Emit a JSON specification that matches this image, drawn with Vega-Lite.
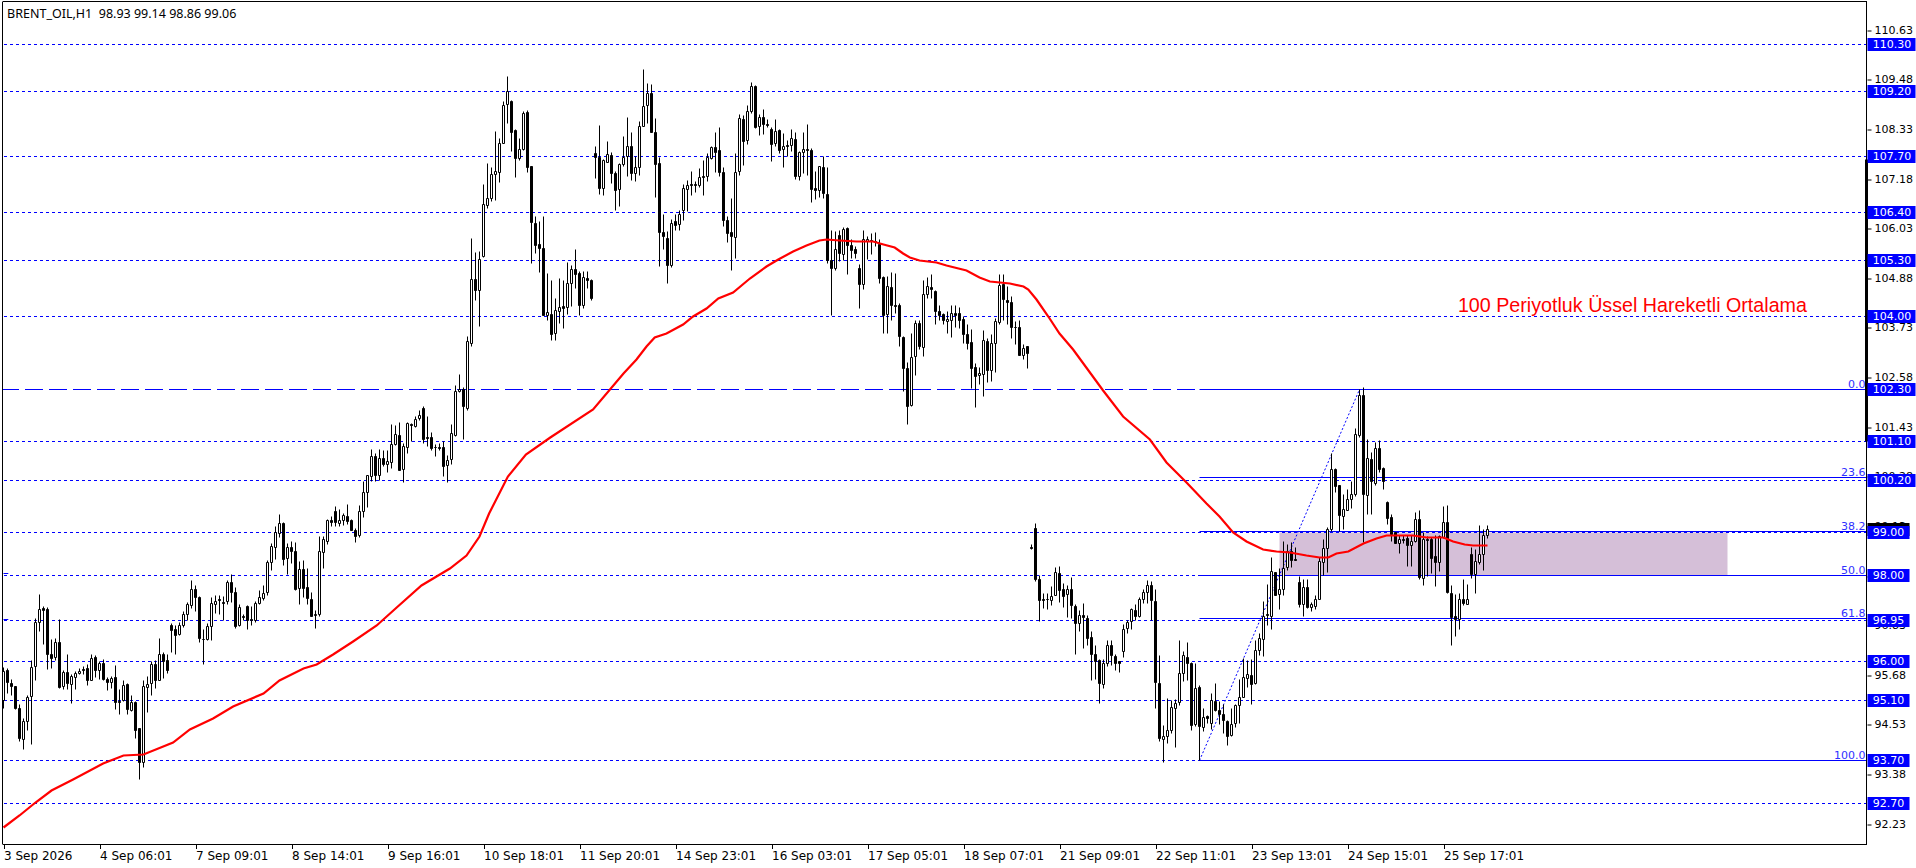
{"$schema":"https://vega.github.io/schema/vega-lite/v6.json","width":1864,"height":843,"autosize":{"type":"none"},"padding":{"left":3,"top":1.5,"right":49,"bottom":23.5},"background":"#ffffff","config":{"view":{"stroke":null},"axis":{"grid":false,"domain":false}},
"datasets":{
"candles":[
{"i":0,"o":95.09,"h":95.86,"l":94.91,"c":95.76},{"i":1,"o":95.80,"h":95.84,"l":95.26,"c":95.51},{"i":2,"o":95.49,"h":95.59,"l":95.22,"c":95.42},{"i":3,"o":95.42,"h":95.43,"l":94.89,"c":94.91},{"i":4,"o":94.91,"h":95.01,"l":94.14,"c":94.22},{"i":5,"o":94.20,"h":94.68,"l":93.95,"c":94.62},{"i":6,"o":94.61,"h":95.22,"l":94.40,"c":95.17},{"i":7,"o":95.18,"h":96.03,"l":94.07,"c":95.86},{"i":8,"o":95.88,"h":97.00,"l":95.57,"c":96.90},{"i":9,"o":96.90,"h":97.56,"l":96.69,"c":97.21},
{"i":10,"o":97.22,"h":97.27,"l":96.40,"c":97.18},{"i":11,"o":97.21,"h":97.24,"l":95.82,"c":96.16},{"i":12,"o":96.16,"h":96.52,"l":95.84,"c":96.07},{"i":13,"o":96.09,"h":96.53,"l":96.03,"c":96.44},{"i":14,"o":96.44,"h":96.97,"l":95.38,"c":95.40},{"i":15,"o":95.42,"h":95.80,"l":95.34,"c":95.75},{"i":16,"o":95.75,"h":96.15,"l":95.34,"c":95.48},{"i":17,"o":95.47,"h":95.69,"l":95.03,"c":95.65},{"i":18,"o":95.63,"h":95.76,"l":95.34,"c":95.72},{"i":19,"o":95.72,"h":95.84,"l":95.69,"c":95.76},
{"i":20,"o":95.82,"h":95.88,"l":95.69,"c":95.79},{"i":21,"o":95.84,"h":95.92,"l":95.45,"c":95.55},{"i":22,"o":95.57,"h":96.17,"l":95.55,"c":96.07},{"i":23,"o":96.09,"h":96.13,"l":95.63,"c":95.79},{"i":24,"o":95.79,"h":95.99,"l":95.59,"c":95.96},{"i":25,"o":95.96,"h":96.05,"l":95.55,"c":95.59},{"i":26,"o":95.59,"h":95.63,"l":95.32,"c":95.52},{"i":27,"o":95.51,"h":95.66,"l":95.38,"c":95.61},{"i":28,"o":95.63,"h":95.91,"l":94.88,"c":95.05},{"i":29,"o":95.08,"h":95.34,"l":94.76,"c":95.05},
{"i":30,"o":95.09,"h":95.55,"l":95.07,"c":95.45},{"i":31,"o":95.47,"h":95.49,"l":94.76,"c":94.88},{"i":32,"o":94.86,"h":95.20,"l":94.84,"c":95.06},{"i":33,"o":95.06,"h":95.08,"l":94.22,"c":94.41},{"i":34,"o":94.44,"h":94.45,"l":93.26,"c":93.66},{"i":35,"o":93.66,"h":95.55,"l":93.54,"c":95.42},{"i":36,"o":95.39,"h":95.66,"l":94.81,"c":95.47},{"i":37,"o":95.48,"h":95.99,"l":95.22,"c":95.92},{"i":38,"o":95.92,"h":96.02,"l":95.38,"c":95.57},{"i":39,"o":95.55,"h":96.53,"l":95.55,"c":96.17},
{"i":40,"o":96.17,"h":96.20,"l":95.61,"c":95.99},{"i":41,"o":96.03,"h":96.15,"l":95.71,"c":95.80},{"i":42,"o":96.84,"h":96.87,"l":96.21,"c":96.71},{"i":43,"o":96.74,"h":96.84,"l":96.17,"c":96.61},{"i":44,"o":96.63,"h":96.90,"l":96.61,"c":96.84},{"i":45,"o":96.84,"h":97.15,"l":96.79,"c":97.09},{"i":46,"o":97.10,"h":97.37,"l":96.94,"c":97.32},{"i":47,"o":97.29,"h":97.88,"l":97.23,"c":97.67},{"i":48,"o":97.67,"h":97.75,"l":97.15,"c":97.48},{"i":49,"o":97.48,"h":97.50,"l":96.43,"c":96.53},
{"i":50,"o":96.52,"h":96.73,"l":95.93,"c":96.50},{"i":51,"o":96.52,"h":96.88,"l":96.48,"c":96.82},{"i":52,"o":96.80,"h":97.48,"l":96.48,"c":97.34},{"i":53,"o":97.33,"h":97.54,"l":97.11,"c":97.39},{"i":54,"o":97.43,"h":97.54,"l":97.10,"c":97.41},{"i":55,"o":97.37,"h":97.50,"l":96.96,"c":97.34},{"i":56,"o":97.38,"h":97.87,"l":97.31,"c":97.83},{"i":57,"o":97.83,"h":98.02,"l":97.36,"c":97.61},{"i":58,"o":97.61,"h":97.72,"l":96.76,"c":96.80},{"i":59,"o":96.83,"h":97.32,"l":96.80,"c":97.25},
{"i":60,"o":97.04,"h":97.09,"l":96.96,"c":97.02},{"i":61,"o":97.28,"h":97.29,"l":96.73,"c":96.96},{"i":62,"o":96.98,"h":97.27,"l":96.84,"c":96.94},{"i":63,"o":96.94,"h":97.38,"l":96.90,"c":97.34},{"i":64,"o":97.34,"h":97.64,"l":97.31,"c":97.48},{"i":65,"o":97.45,"h":97.75,"l":97.42,"c":97.58},{"i":66,"o":97.59,"h":98.35,"l":97.54,"c":98.29},{"i":67,"o":98.29,"h":98.73,"l":98.12,"c":98.66},{"i":68,"o":98.64,"h":99.12,"l":98.36,"c":98.98},{"i":69,"o":98.97,"h":99.41,"l":98.87,"c":99.20},
{"i":70,"o":99.20,"h":99.21,"l":98.23,"c":98.36},{"i":71,"o":98.38,"h":98.73,"l":98.02,"c":98.64},{"i":72,"o":98.64,"h":98.77,"l":98.28,"c":98.54},{"i":73,"o":98.55,"h":98.76,"l":97.65,"c":97.66},{"i":74,"o":97.69,"h":98.31,"l":97.31,"c":98.13},{"i":75,"o":98.13,"h":98.33,"l":97.48,"c":97.69},{"i":76,"o":97.71,"h":98.15,"l":97.31,"c":97.45},{"i":77,"o":97.44,"h":97.60,"l":97.04,"c":97.04},{"i":78,"o":97.06,"h":97.17,"l":96.76,"c":97.10},{"i":79,"o":97.08,"h":98.89,"l":97.05,"c":98.55},
{"i":80,"o":98.53,"h":98.89,"l":98.15,"c":98.83},{"i":81,"o":98.79,"h":99.29,"l":98.72,"c":99.26},{"i":82,"o":99.27,"h":99.35,"l":99.13,"c":99.23},{"i":83,"o":99.47,"h":99.60,"l":99.13,"c":99.23},{"i":84,"o":99.20,"h":99.52,"l":99.13,"c":99.26},{"i":85,"o":99.26,"h":99.44,"l":99.15,"c":99.39},{"i":86,"o":99.35,"h":99.64,"l":99.18,"c":99.25},{"i":87,"o":99.26,"h":99.29,"l":99.03,"c":99.04},{"i":88,"o":99.04,"h":99.08,"l":98.76,"c":98.90},{"i":89,"o":98.92,"h":99.62,"l":98.87,"c":99.47},
{"i":90,"o":99.47,"h":100.16,"l":99.33,"c":99.91},{"i":91,"o":99.92,"h":100.31,"l":99.56,"c":100.30},{"i":92,"o":100.28,"h":100.92,"l":100.16,"c":100.75},{"i":93,"o":100.75,"h":100.82,"l":100.18,"c":100.30},{"i":94,"o":100.30,"h":100.92,"l":100.20,"c":100.70},{"i":95,"o":100.71,"h":100.88,"l":100.52,"c":100.57},{"i":96,"o":100.57,"h":100.89,"l":100.37,"c":100.63},{"i":97,"o":100.62,"h":101.50,"l":100.47,"c":101.03},{"i":98,"o":101.02,"h":101.47,"l":101.01,"c":101.26},{"i":99,"o":101.23,"h":101.53,"l":100.42,"c":100.42},
{"i":100,"o":100.45,"h":101.05,"l":100.14,"c":100.98},{"i":101,"o":100.97,"h":101.55,"l":100.83,"c":101.51},{"i":102,"o":101.49,"h":101.51,"l":101.09,"c":101.47},{"i":103,"o":101.45,"h":101.68,"l":101.43,"c":101.60},{"i":104,"o":101.62,"h":101.82,"l":101.59,"c":101.70},{"i":105,"o":101.87,"h":101.90,"l":101.05,"c":101.15},{"i":106,"o":101.18,"h":101.68,"l":100.99,"c":101.16},{"i":107,"o":101.18,"h":101.31,"l":100.89,"c":100.93},{"i":108,"o":100.97,"h":101.03,"l":100.74,"c":100.95},{"i":109,"o":100.97,"h":101.06,"l":100.89,"c":100.94},
{"i":110,"o":100.96,"h":101.09,"l":100.28,"c":100.53},{"i":111,"o":100.55,"h":100.78,"l":100.14,"c":100.65},{"i":112,"o":100.67,"h":101.50,"l":100.57,"c":101.28},{"i":113,"o":101.24,"h":102.40,"l":101.22,"c":102.25},{"i":114,"o":102.25,"h":102.65,"l":102.24,"c":102.31},{"i":115,"o":102.31,"h":102.36,"l":101.15,"c":101.90},{"i":116,"o":101.86,"h":103.54,"l":101.82,"c":103.41},{"i":117,"o":103.38,"h":105.81,"l":103.30,"c":104.86},{"i":118,"o":104.86,"h":105.47,"l":104.36,"c":104.60},{"i":119,"o":104.60,"h":105.51,"l":103.76,"c":105.32},
{"i":120,"o":105.38,"h":107.06,"l":105.36,"c":106.59},{"i":121,"o":106.56,"h":107.54,"l":106.49,"c":106.72},{"i":122,"o":106.72,"h":107.45,"l":106.65,"c":107.28},{"i":123,"o":107.29,"h":108.28,"l":106.69,"c":107.36},{"i":124,"o":107.33,"h":108.12,"l":107.09,"c":108.00},{"i":125,"o":108.00,"h":108.98,"l":108.00,"c":108.88},{"i":126,"o":108.90,"h":109.56,"l":108.48,"c":109.22},{"i":127,"o":108.98,"h":108.99,"l":107.81,"c":108.27},{"i":128,"o":108.31,"h":108.33,"l":107.21,"c":107.66},{"i":129,"o":107.66,"h":108.11,"l":107.60,"c":107.87},
{"i":130,"o":107.87,"h":108.75,"l":107.85,"c":108.70},{"i":131,"o":108.73,"h":108.78,"l":107.33,"c":107.44},{"i":132,"o":107.48,"h":107.48,"l":105.23,"c":106.17},{"i":133,"o":106.16,"h":106.31,"l":105.46,"c":105.64},{"i":134,"o":105.67,"h":106.19,"l":105.01,"c":105.56},{"i":135,"o":105.56,"h":106.32,"l":104.01,"c":104.03},{"i":136,"o":104.02,"h":105.00,"l":103.90,"c":104.09},{"i":137,"o":104.05,"h":104.84,"l":103.44,"c":103.57},{"i":138,"o":103.61,"h":104.42,"l":103.45,"c":104.14},{"i":139,"o":104.11,"h":104.88,"l":103.84,"c":104.21},
{"i":140,"o":104.23,"h":104.84,"l":103.71,"c":104.17},{"i":141,"o":104.20,"h":105.24,"l":104.05,"c":104.76},{"i":142,"o":104.76,"h":105.17,"l":104.22,"c":105.09},{"i":143,"o":105.09,"h":105.54,"l":104.65,"c":104.98},{"i":144,"o":105.00,"h":105.03,"l":104.03,"c":104.25},{"i":145,"o":104.24,"h":105.03,"l":104.18,"c":104.90},{"i":146,"o":104.88,"h":105.03,"l":104.65,"c":104.84},{"i":147,"o":104.84,"h":104.86,"l":104.36,"c":104.41},{"i":148,"o":107.77,"h":107.94,"l":107.20,"c":107.67},{"i":149,"o":107.67,"h":108.43,"l":106.83,"c":106.96},
{"i":150,"o":106.96,"h":107.64,"l":106.81,"c":107.62},{"i":151,"o":107.57,"h":108.06,"l":107.57,"c":107.75},{"i":152,"o":107.73,"h":107.80,"l":107.08,"c":107.30},{"i":153,"o":107.30,"h":107.35,"l":106.46,"c":106.91},{"i":154,"o":106.93,"h":107.54,"l":106.54,"c":107.52},{"i":155,"o":107.51,"h":108.17,"l":107.48,"c":107.69},{"i":156,"o":107.70,"h":108.61,"l":107.23,"c":107.94},{"i":157,"o":107.94,"h":108.27,"l":107.14,"c":107.30},{"i":158,"o":107.30,"h":107.70,"l":107.12,"c":107.45},{"i":159,"o":107.44,"h":108.52,"l":107.27,"c":108.40},
{"i":160,"o":108.41,"h":109.73,"l":108.39,"c":108.87},{"i":161,"o":108.88,"h":109.39,"l":108.48,"c":109.17},{"i":162,"o":109.17,"h":109.38,"l":108.27,"c":108.27},{"i":163,"o":108.26,"h":108.58,"l":106.75,"c":107.51},{"i":164,"o":107.54,"h":107.67,"l":105.15,"c":105.94},{"i":165,"o":105.95,"h":106.35,"l":105.55,"c":105.84},{"i":166,"o":105.81,"h":105.96,"l":104.75,"c":105.17},{"i":167,"o":105.18,"h":106.25,"l":105.13,"c":106.15},{"i":168,"o":106.20,"h":106.37,"l":106.00,"c":106.11},{"i":169,"o":106.13,"h":106.46,"l":106.00,"c":106.35},
{"i":170,"o":106.46,"h":107.06,"l":106.21,"c":106.96},{"i":171,"o":106.94,"h":107.14,"l":106.44,"c":107.03},{"i":172,"o":107.06,"h":107.36,"l":106.81,"c":107.03},{"i":173,"o":107.06,"h":107.12,"l":106.86,"c":107.03},{"i":174,"o":107.02,"h":107.43,"l":106.98,"c":107.22},{"i":175,"o":107.23,"h":107.60,"l":106.81,"c":107.21},{"i":176,"o":107.23,"h":107.77,"l":107.13,"c":107.67},{"i":177,"o":107.65,"h":107.94,"l":107.64,"c":107.91},{"i":178,"o":107.91,"h":108.25,"l":107.33,"c":107.80},{"i":179,"o":107.85,"h":108.38,"l":107.23,"c":107.33},
{"i":180,"o":107.33,"h":107.46,"l":106.08,"c":106.21},{"i":181,"o":106.22,"h":106.31,"l":105.71,"c":105.91},{"i":182,"o":105.94,"h":106.73,"l":105.07,"c":105.84},{"i":183,"o":105.83,"h":107.77,"l":105.34,"c":107.33},{"i":184,"o":107.35,"h":108.68,"l":107.27,"c":108.58},{"i":185,"o":108.56,"h":108.66,"l":107.50,"c":108.04},{"i":186,"o":108.07,"h":108.89,"l":107.99,"c":108.75},{"i":187,"o":108.74,"h":109.42,"l":108.70,"c":109.32},{"i":188,"o":109.32,"h":109.34,"l":108.35,"c":108.38},{"i":189,"o":108.41,"h":108.68,"l":108.20,"c":108.61},
{"i":190,"o":108.61,"h":108.79,"l":108.22,"c":108.44},{"i":191,"o":108.45,"h":108.56,"l":108.38,"c":108.42},{"i":192,"o":108.34,"h":108.38,"l":107.58,"c":107.99},{"i":193,"o":108.00,"h":108.56,"l":107.93,"c":108.29},{"i":194,"o":108.31,"h":108.33,"l":107.77,"c":107.85},{"i":195,"o":107.86,"h":108.24,"l":107.46,"c":107.93},{"i":196,"o":107.96,"h":108.08,"l":107.71,"c":107.93},{"i":197,"o":107.97,"h":108.33,"l":107.81,"c":108.12},{"i":198,"o":108.10,"h":108.27,"l":107.16,"c":107.23},{"i":199,"o":107.23,"h":107.81,"l":107.14,"c":107.80},
{"i":200,"o":107.79,"h":108.25,"l":107.31,"c":107.87},{"i":201,"o":107.87,"h":108.45,"l":107.27,"c":107.84},{"i":202,"o":107.84,"h":107.89,"l":106.63,"c":106.93},{"i":203,"o":106.96,"h":107.36,"l":106.71,"c":106.91},{"i":204,"o":106.91,"h":107.48,"l":106.75,"c":107.47},{"i":205,"o":107.46,"h":107.70,"l":106.74,"c":106.85},{"i":206,"o":106.82,"h":107.46,"l":105.23,"c":105.30},{"i":207,"o":105.29,"h":105.98,"l":104.01,"c":105.10},{"i":208,"o":105.10,"h":105.96,"l":105.07,"c":105.54},{"i":209,"o":105.88,"h":106.00,"l":105.27,"c":105.45},
{"i":210,"o":105.43,"h":106.06,"l":105.29,"c":106.01},{"i":211,"o":106.04,"h":106.05,"l":104.96,"c":105.64},{"i":212,"o":105.64,"h":105.78,"l":105.34,"c":105.52},{"i":213,"o":105.55,"h":105.61,"l":105.34,"c":105.45},{"i":214,"o":105.11,"h":105.19,"l":104.17,"c":104.73},{"i":215,"o":104.73,"h":105.98,"l":104.61,"c":105.77},{"i":216,"o":105.74,"h":105.86,"l":105.32,"c":105.78},{"i":217,"o":105.75,"h":105.91,"l":105.44,"c":105.73},{"i":218,"o":105.74,"h":105.94,"l":105.61,"c":105.71},{"i":219,"o":105.67,"h":105.77,"l":104.75,"c":104.87},
{"i":220,"o":104.90,"h":104.93,"l":103.59,"c":104.03},{"i":221,"o":104.04,"h":104.93,"l":103.59,"c":104.69},{"i":222,"o":104.67,"h":105.02,"l":103.91,"c":104.25},{"i":223,"o":104.26,"h":104.99,"l":104.07,"c":104.22},{"i":224,"o":104.26,"h":104.29,"l":103.30,"c":103.53},{"i":225,"o":103.51,"h":103.53,"l":102.26,"c":102.79},{"i":226,"o":102.80,"h":102.93,"l":101.49,"c":101.91},{"i":227,"o":101.93,"h":103.61,"l":101.91,"c":103.05},{"i":228,"o":103.07,"h":103.90,"l":102.62,"c":103.84},{"i":229,"o":103.84,"h":103.91,"l":103.24,"c":103.29},
{"i":230,"o":103.28,"h":104.84,"l":103.07,"c":104.51},{"i":231,"o":104.50,"h":104.90,"l":104.42,"c":104.69},{"i":232,"o":104.67,"h":104.96,"l":104.42,"c":104.61},{"i":233,"o":104.58,"h":104.59,"l":103.80,"c":104.11},{"i":234,"o":104.12,"h":104.26,"l":103.90,"c":104.03},{"i":235,"o":104.05,"h":104.07,"l":103.80,"c":103.91},{"i":236,"o":103.88,"h":104.11,"l":103.59,"c":103.93},{"i":237,"o":103.90,"h":104.26,"l":103.51,"c":104.07},{"i":238,"o":104.07,"h":104.24,"l":103.74,"c":104.03},{"i":239,"o":104.07,"h":104.21,"l":103.72,"c":103.91},
{"i":240,"o":103.93,"h":103.99,"l":103.36,"c":103.58},{"i":241,"o":103.58,"h":103.82,"l":103.22,"c":103.36},{"i":242,"o":103.40,"h":103.70,"l":102.33,"c":102.79},{"i":243,"o":102.82,"h":102.91,"l":101.89,"c":102.60},{"i":244,"o":102.63,"h":102.81,"l":102.41,"c":102.68},{"i":245,"o":102.66,"h":103.66,"l":102.14,"c":103.44},{"i":246,"o":103.42,"h":103.48,"l":102.46,"c":102.74},{"i":247,"o":102.74,"h":103.58,"l":102.49,"c":103.37},{"i":248,"o":103.37,"h":103.94,"l":102.70,"c":103.88},{"i":249,"o":103.85,"h":104.96,"l":103.80,"c":104.72},
{"i":250,"o":104.73,"h":104.98,"l":103.90,"c":104.38},{"i":251,"o":104.37,"h":104.69,"l":103.80,"c":104.32},{"i":252,"o":104.31,"h":104.45,"l":103.49,"c":103.74},{"i":253,"o":103.75,"h":103.89,"l":103.34,"c":103.74},{"i":254,"o":103.74,"h":103.91,"l":103.08,"c":103.09},{"i":255,"o":103.10,"h":103.34,"l":103.00,"c":103.26},{"i":256,"o":103.29,"h":103.31,"l":102.78,"c":103.14},{"i":257,"o":98.63,"h":98.70,"l":98.60,"c":98.61},{"i":258,"o":99.08,"h":99.20,"l":97.85,"c":97.91},{"i":259,"o":97.90,"h":98.00,"l":96.92,"c":97.42},
{"i":260,"o":97.44,"h":97.57,"l":97.22,"c":97.42},{"i":261,"o":97.44,"h":97.57,"l":97.20,"c":97.43},{"i":262,"o":97.42,"h":97.74,"l":97.29,"c":97.51},{"i":263,"o":97.53,"h":98.17,"l":97.52,"c":98.07},{"i":264,"o":98.04,"h":98.21,"l":97.36,"c":97.64},{"i":265,"o":97.66,"h":97.80,"l":97.25,"c":97.50},{"i":266,"o":97.55,"h":97.76,"l":97.03,"c":97.67},{"i":267,"o":97.67,"h":97.95,"l":97.00,"c":97.30},{"i":268,"o":97.28,"h":97.31,"l":96.15,"c":96.88},{"i":269,"o":96.88,"h":97.19,"l":96.69,"c":97.07},
{"i":270,"o":97.07,"h":97.35,"l":96.29,"c":97.02},{"i":271,"o":97.00,"h":97.06,"l":96.38,"c":96.53},{"i":272,"o":96.56,"h":96.69,"l":95.57,"c":96.16},{"i":273,"o":96.17,"h":96.36,"l":95.59,"c":96.01},{"i":274,"o":96.03,"h":96.04,"l":95.02,"c":95.49},{"i":275,"o":95.47,"h":96.04,"l":95.37,"c":95.96},{"i":276,"o":95.96,"h":96.49,"l":95.88,"c":96.38},{"i":277,"o":96.38,"h":96.49,"l":95.91,"c":96.14},{"i":278,"o":96.11,"h":96.16,"l":95.78,"c":95.96},{"i":279,"o":95.99,"h":96.01,"l":95.74,"c":95.96},
{"i":280,"o":96.23,"h":96.85,"l":96.09,"c":96.75},{"i":281,"o":96.76,"h":96.96,"l":96.64,"c":96.91},{"i":282,"o":96.93,"h":97.23,"l":96.73,"c":97.21},{"i":283,"o":97.19,"h":97.33,"l":96.96,"c":97.04},{"i":284,"o":97.04,"h":97.49,"l":97.03,"c":97.44},{"i":285,"o":97.43,"h":97.66,"l":97.35,"c":97.60},{"i":286,"o":97.60,"h":97.87,"l":97.35,"c":97.77},{"i":287,"o":97.77,"h":97.85,"l":96.96,"c":97.41},{"i":288,"o":97.40,"h":97.66,"l":94.90,"c":95.51},{"i":289,"o":95.50,"h":96.13,"l":94.15,"c":94.22},
{"i":290,"o":94.19,"h":94.51,"l":93.66,"c":94.27},{"i":291,"o":94.25,"h":95.15,"l":94.11,"c":94.41},{"i":292,"o":94.40,"h":95.10,"l":94.34,"c":94.94},{"i":293,"o":94.91,"h":95.11,"l":94.00,"c":95.03},{"i":294,"o":95.06,"h":96.48,"l":94.98,"c":95.73},{"i":295,"o":95.72,"h":96.23,"l":95.54,"c":96.13},{"i":296,"o":96.10,"h":96.45,"l":95.56,"c":95.95},{"i":297,"o":95.96,"h":95.98,"l":94.39,"c":94.52},{"i":298,"o":94.54,"h":95.96,"l":94.49,"c":95.38},{"i":299,"o":95.39,"h":95.44,"l":93.71,"c":94.49},
{"i":300,"o":94.48,"h":94.92,"l":94.38,"c":94.70},{"i":301,"o":94.73,"h":94.74,"l":94.56,"c":94.67},{"i":302,"o":94.56,"h":95.25,"l":94.42,"c":95.10},{"i":303,"o":95.08,"h":95.48,"l":94.84,"c":94.87},{"i":304,"o":94.87,"h":95.07,"l":94.53,"c":94.77},{"i":305,"o":94.78,"h":95.00,"l":94.32,"c":94.63},{"i":306,"o":94.62,"h":94.63,"l":94.05,"c":94.26},{"i":307,"o":94.28,"h":94.92,"l":94.26,"c":94.55},{"i":308,"o":94.57,"h":95.00,"l":94.48,"c":94.97},{"i":309,"o":94.97,"h":95.59,"l":94.57,"c":95.17},
{"i":310,"o":95.17,"h":96.07,"l":95.17,"c":95.63},{"i":311,"o":95.60,"h":96.03,"l":95.40,"c":95.70},{"i":312,"o":95.68,"h":96.05,"l":95.01,"c":95.47},{"i":313,"o":95.50,"h":96.48,"l":95.46,"c":96.26},{"i":314,"o":96.25,"h":96.65,"l":96.13,"c":96.53},{"i":315,"o":96.52,"h":97.39,"l":96.11,"c":97.05},{"i":316,"o":97.09,"h":97.79,"l":96.84,"c":97.07},{"i":317,"o":97.05,"h":98.41,"l":96.75,"c":98.08},{"i":318,"o":98.06,"h":98.07,"l":97.53,"c":97.54},{"i":319,"o":97.56,"h":98.15,"l":97.21,"c":97.67},
{"i":320,"o":97.66,"h":98.78,"l":97.52,"c":98.16},{"i":321,"o":98.17,"h":98.71,"l":98.10,"c":98.56},{"i":322,"o":98.54,"h":98.75,"l":98.17,"c":98.35},{"i":323,"o":98.36,"h":98.64,"l":98.33,"c":98.33},{"i":324,"o":97.83,"h":97.98,"l":97.26,"c":97.33},{"i":325,"o":97.33,"h":97.90,"l":97.05,"c":97.71},{"i":326,"o":97.71,"h":97.90,"l":97.23,"c":97.24},{"i":327,"o":97.26,"h":97.37,"l":97.15,"c":97.32},{"i":328,"o":97.28,"h":97.52,"l":97.21,"c":97.44},{"i":329,"o":97.43,"h":98.41,"l":97.43,"c":98.31},
{"i":330,"o":98.29,"h":98.83,"l":97.99,"c":98.62},{"i":331,"o":98.61,"h":99.10,"l":98.07,"c":99.05},{"i":332,"o":99.05,"h":100.82,"l":99.02,"c":100.44},{"i":333,"o":100.45,"h":100.47,"l":99.91,"c":100.06},{"i":334,"o":100.07,"h":100.08,"l":99.02,"c":99.38},{"i":335,"o":99.37,"h":99.87,"l":99.05,"c":99.52},{"i":336,"o":99.49,"h":99.99,"l":99.49,"c":99.75},{"i":337,"o":99.76,"h":100.16,"l":99.55,"c":99.86},{"i":338,"o":99.86,"h":101.39,"l":99.83,"c":101.25},{"i":339,"o":101.24,"h":102.30,"l":101.18,"c":102.16},
{"i":340,"o":102.16,"h":102.36,"l":98.75,"c":99.86},{"i":341,"o":99.84,"h":101.15,"l":99.41,"c":100.70},{"i":342,"o":100.68,"h":100.84,"l":99.41,"c":100.16},{"i":343,"o":100.13,"h":101.07,"l":100.08,"c":100.93},{"i":344,"o":100.93,"h":101.13,"l":100.37,"c":100.44},{"i":345,"o":100.47,"h":100.49,"l":99.99,"c":100.18},{"i":346,"o":99.69,"h":99.71,"l":99.18,"c":99.32},{"i":347,"o":99.33,"h":99.41,"l":98.79,"c":98.95},{"i":348,"o":98.98,"h":99.00,"l":98.74,"c":98.74},{"i":349,"o":98.73,"h":98.91,"l":98.51,"c":98.82},
{"i":350,"o":98.83,"h":98.92,"l":98.74,"c":98.81},{"i":351,"o":98.85,"h":98.91,"l":98.19,"c":98.68},{"i":352,"o":98.68,"h":98.91,"l":98.20,"c":98.77},{"i":353,"o":98.77,"h":99.46,"l":98.75,"c":99.29},{"i":354,"o":99.29,"h":99.50,"l":97.90,"c":97.94},{"i":355,"o":97.92,"h":99.00,"l":97.77,"c":98.83},{"i":356,"o":98.83,"h":98.89,"l":97.98,"c":98.81},{"i":357,"o":98.83,"h":98.87,"l":98.04,"c":98.39},{"i":358,"o":98.44,"h":98.91,"l":97.73,"c":98.30},{"i":359,"o":98.30,"h":98.91,"l":98.08,"c":98.89},
{"i":360,"o":98.87,"h":99.60,"l":98.85,"c":99.22},{"i":361,"o":99.22,"h":99.62,"l":97.57,"c":97.60},{"i":362,"o":97.58,"h":97.77,"l":96.38,"c":97.03},{"i":363,"o":97.04,"h":97.56,"l":96.57,"c":96.98},{"i":364,"o":96.98,"h":97.58,"l":96.73,"c":97.44},{"i":365,"o":97.44,"h":97.90,"l":97.29,"c":97.35},{"i":366,"o":97.33,"h":97.79,"l":97.31,"c":97.44},{"i":367,"o":98.48,"h":98.65,"l":97.93,"c":98.02},{"i":368,"o":98.02,"h":98.60,"l":97.58,"c":98.32},{"i":369,"o":98.30,"h":99.14,"l":98.25,"c":98.48},
{"i":370,"o":98.47,"h":99.06,"l":98.10,"c":98.92},{"i":371,"o":98.93,"h":99.14,"l":98.86,"c":99.06}],
"ma":[{"i":0,"p":92.16},{"i":4,"p":92.42},{"i":8,"p":92.72},{"i":12,"p":93.0},{"i":17.4,"p":93.26},{"i":24.9,"p":93.63},{"i":30,"p":93.81},{"i":35,"p":93.85},{"i":42.4,"p":94.12},{"i":46.6,"p":94.43},{"i":52.4,"p":94.68},{"i":57.4,"p":94.95},{"i":65,"p":95.26},{"i":69,"p":95.55},{"i":75,"p":95.84},{"i":78.3,"p":95.92},{"i":82.4,"p":96.15},{"i":87.4,"p":96.46},{"i":93.3,"p":96.84},{"i":98.3,"p":97.24},{"i":104.5,"p":97.77},{"i":111.6,"p":98.15},{"i":115.75,"p":98.46},{"i":119,"p":98.89},{"i":121.4,"p":99.43},{"i":126.1,"p":100.28},{"i":130.6,"p":100.79},{"i":136.7,"p":101.18},{"i":147.4,"p":101.83},{"i":155,"p":102.67},{"i":158.25,"p":103.0},{"i":160.75,"p":103.3},{"i":162.8,"p":103.5},{"i":165.75,"p":103.6},{"i":169.9,"p":103.8},{"i":172.4,"p":104.0},{"i":175.75,"p":104.19},{"i":178.7,"p":104.42},{"i":182.4,"p":104.55},{"i":186.6,"p":104.88},{"i":190.75,"p":105.15},{"i":193.7,"p":105.32},{"i":197.4,"p":105.5},{"i":200.75,"p":105.65},{"i":204,"p":105.76},{"i":205.75,"p":105.77},{"i":209,"p":105.75},{"i":213.25,"p":105.73},{"i":217.4,"p":105.74},{"i":220,"p":105.67},{"i":222.8,"p":105.6},{"i":224.9,"p":105.46},{"i":226.6,"p":105.37},{"i":229,"p":105.3},{"i":233.25,"p":105.24},{"i":235.75,"p":105.17},{"i":240.75,"p":105.06},{"i":244,"p":104.89},{"i":246.6,"p":104.81},{"i":251.6,"p":104.76},{"i":255,"p":104.69},{"i":256.2,"p":104.63},{"i":258.25,"p":104.38},{"i":261.2,"p":104.0},{"i":264,"p":103.59},{"i":267.4,"p":103.22},{"i":274.9,"p":102.28},{"i":279.9,"p":101.68},{"i":286.6,"p":101.14},{"i":290.75,"p":100.6},{"i":295.75,"p":100.15},{"i":300.75,"p":99.67},{"i":304,"p":99.36},{"i":307.4,"p":99.0},{"i":310.75,"p":98.78},{"i":314.9,"p":98.59},{"i":318.25,"p":98.54},{"i":321.6,"p":98.53},{"i":325.75,"p":98.46},{"i":329,"p":98.41},{"i":331.2,"p":98.42},{"i":333.25,"p":98.51},{"i":336.2,"p":98.54},{"i":340,"p":98.73},{"i":343.25,"p":98.86},{"i":345.75,"p":98.91},{"i":352.4,"p":98.91},{"i":355.75,"p":98.88},{"i":360,"p":98.88},{"i":362.4,"p":98.78},{"i":365.3,"p":98.7},{"i":367.4,"p":98.69},{"i":371,"p":98.68}],
"levels":[{"p":110.3,"t":"110.30"},{"p":109.2,"t":"109.20"},{"p":107.7,"t":"107.70"},{"p":106.4,"t":"106.40"},{"p":105.3,"t":"105.30"},{"p":104,"t":"104.00"},{"p":101.1,"t":"101.10"},{"p":100.2,"t":"100.20"},{"p":99,"t":"99.00"},{"p":98,"t":"98.00"},{"p":96.95,"t":"96.95"},{"p":96,"t":"96.00"},{"p":95.1,"t":"95.10"},{"p":93.7,"t":"93.70"},{"p":92.7,"t":"92.70"}],
"fib":[{"p":102.3,"t":"0.0","a":299,"b":465.75},{"p":100.27,"t":"23.6","a":299,"b":465.75},{"p":99.01,"t":"38.2","a":299,"b":465.75},{"p":98,"t":"50.0","a":299,"b":465.75},{"p":96.985,"t":"61.8","a":299,"b":465.75},{"p":93.7,"t":"100.0","a":299,"b":465.75}],
"tags":[{"p":110.3,"t":"110.30"},{"p":109.2,"t":"109.20"},{"p":107.7,"t":"107.70"},{"p":106.4,"t":"106.40"},{"p":105.3,"t":"105.30"},{"p":104,"t":"104.00"},{"p":102.3,"t":"102.30"},{"p":101.1,"t":"101.10"},{"p":100.2,"t":"100.20"},{"p":99,"t":"99.00"},{"p":98,"t":"98.00"},{"p":96.95,"t":"96.95"},{"p":96,"t":"96.00"},{"p":95.1,"t":"95.10"},{"p":93.7,"t":"93.70"},{"p":92.7,"t":"92.70"}]
},
"layer":[
{"data":{"values":[{"a":319,"b":431,"p1":99,"p2":98}]},"mark":{"type":"rect","color":"#d5bfd8"},"encoding":{"x":{"field":"a","type":"quantitative","scale":{"domain":[-0.125,465.875]},"title":null},"x2":{"field":"b"},"y":{"field":"p1","type":"quantitative","scale":{"domain":[91.758,111.296],"round":true},"title":null},"y2":{"field":"p2"}}},
{"data":{"name":"levels"},"mark":{"type":"rule","color":"#0000ff","strokeWidth":1,"strokeDash":[3,3]},"encoding":{"y":{"field":"p","type":"quantitative","scale":{"domain":[91.758,111.296],"round":true},"title":null}}},
{"data":{"values":[{"p":102.3}]},"mark":{"type":"rule","color":"#0000ff","strokeWidth":1,"strokeDash":[18,6]},"encoding":{"y":{"field":"p","type":"quantitative","scale":{"domain":[91.758,111.296],"round":true},"title":null}}},
{"data":{"name":"fib"},"mark":{"type":"rule","color":"#0000ff","strokeWidth":1},"encoding":{"x":{"field":"a","type":"quantitative","scale":{"domain":[-0.125,465.875]},"title":null},"x2":{"field":"b"},"y":{"field":"p","type":"quantitative","scale":{"domain":[91.758,111.296],"round":true},"title":null}}},
{"data":{"values":[{"i":299,"p":93.7},{"i":339,"p":102.3}]},"mark":{"type":"line","color":"#0000ff","strokeWidth":1,"strokeDash":[2,2]},"encoding":{"x":{"field":"i","type":"quantitative","scale":{"domain":[-0.125,465.875]},"title":null},"y":{"field":"p","type":"quantitative","scale":{"domain":[91.758,111.296],"round":true},"title":null}}},
{"data":{"values":[{"p":98.03,"a":0,"b":1.2},{"p":96.98,"a":0,"b":1.2}]},"mark":{"type":"rule","color":"#0000ff","strokeWidth":1},"encoding":{"x":{"field":"a","type":"quantitative","scale":{"domain":[-0.125,465.875]},"title":null},"x2":{"field":"b"},"y":{"field":"p","type":"quantitative","scale":{"domain":[91.758,111.296],"round":true},"title":null}}},
{"data":{"name":"fib"},"mark":{"type":"text","align":"right","baseline":"bottom","dx":-1,"dy":0,"color":"#3030ff","font":"DejaVu Sans","fontSize":11},"encoding":{"x":{"field":"b","type":"quantitative","scale":{"domain":[-0.125,465.875]},"title":null},"y":{"field":"p","type":"quantitative","scale":{"domain":[91.758,111.296],"round":true},"title":null},"text":{"field":"t"}}},
{"data":{"name":"candles"},"mark":{"type":"rule","color":"#000000","strokeWidth":1},"encoding":{"x":{"field":"i","type":"quantitative","scale":{"domain":[-0.125,465.875]},"axis":{"values":[0,24,48,72,96,120,144,168,192,216,240,264,288,312,336,360],"labelExpr":"['3 Sep 2026','4 Sep 06:01','7 Sep 09:01','8 Sep 14:01','9 Sep 16:01','10 Sep 18:01','11 Sep 20:01','14 Sep 23:01','16 Sep 03:01','17 Sep 05:01','18 Sep 07:01','21 Sep 09:01','22 Sep 11:01','23 Sep 13:01','24 Sep 15:01','25 Sep 17:01'][datum.value/24]","labelAlign":"left","labelDx":-2,"tickSize":4,"tickColor":"#000000","domain":false,"grid":false,"labelFont":"DejaVu Sans","labelFontSize":12,"labelColor":"#000000","labelPadding":2,"labelOverlap":false,"labelFlush":false,"labelBound":false,"title":null},"title":null},"y":{"field":"h","type":"quantitative","scale":{"domain":[91.758,111.296],"round":true},"axis":{"orient":"right","values":[110.63,109.48,108.33,107.18,106.03,104.88,103.73,102.58,101.43,100.28,99.13,97.98,96.83,95.68,94.53,93.38,92.23],"format":".2f","tickSize":4,"tickColor":"#000000","domain":false,"grid":false,"labelFont":"DejaVu Sans","labelFontSize":11,"labelColor":"#000000","labelPadding":3,"labelOverlap":false,"labelFlush":false,"labelBound":false,"title":null},"title":null},"y2":{"field":"l"}}},
{"data":{"name":"candles"},"mark":{"type":"rect","width":2,"stroke":"#000000","strokeWidth":1},"encoding":{"x":{"field":"i","type":"quantitative","scale":{"domain":[-0.125,465.875]},"title":null},"y":{"field":"o","type":"quantitative","scale":{"domain":[91.758,111.296],"round":true},"title":null},"y2":{"field":"c"},"fill":{"condition":{"test":"datum.c>=datum.o","value":"#ffffff"},"value":"#000000"}}},
{"data":{"name":"ma"},"mark":{"type":"line","color":"#ff0000","strokeWidth":2.2},"encoding":{"x":{"field":"i","type":"quantitative","scale":{"domain":[-0.125,465.875]},"title":null},"y":{"field":"p","type":"quantitative","scale":{"domain":[91.758,111.296],"round":true},"title":null}}},
{"data":{"values":[{"i":-0.25},{"i":465.75}]},"mark":{"type":"rule","color":"#000000","strokeWidth":1},"encoding":{"x":{"field":"i","type":"quantitative","scale":{"domain":[-0.125,465.875]},"title":null}}},
{"data":{"values":[{"p":111.296},{"p":91.758}]},"mark":{"type":"rule","color":"#000000","strokeWidth":1},"encoding":{"y":{"field":"p","type":"quantitative","scale":{"domain":[91.758,111.296],"round":true},"title":null}}},
{"data":{"values":[{"a":107.63,"b":101.1,"i":465.75}]},"mark":{"type":"rule","color":"#000000","strokeWidth":3},"encoding":{"x":{"field":"i","type":"quantitative","scale":{"domain":[-0.125,465.875]},"title":null},"y":{"field":"a","type":"quantitative","scale":{"domain":[91.758,111.296],"round":true},"title":null},"y2":{"field":"b"}}},
{"data":{"values":[{"p":99.06,"i":471.25}]},"mark":{"type":"rect","width":42,"height":13,"color":"#000000"},"encoding":{"x":{"field":"i","type":"quantitative","scale":{"domain":[-0.125,465.875]},"title":null},"y":{"field":"p","type":"quantitative","scale":{"domain":[91.758,111.296],"round":true},"title":null}}},
{"data":{"name":"tags"},"transform":[{"filter":"datum.p>=100"}],"mark":{"type":"rect","width":48,"height":13,"color":"#0000ff"},"encoding":{"x":{"datum":472,"type":"quantitative","scale":{"domain":[-0.125,465.875]},"title":null},"y":{"field":"p","type":"quantitative","scale":{"domain":[91.758,111.296],"round":true},"title":null}}},
{"data":{"name":"tags"},"transform":[{"filter":"datum.p<100"}],"mark":{"type":"rect","width":42,"height":13,"color":"#0000ff"},"encoding":{"x":{"datum":471.25,"type":"quantitative","scale":{"domain":[-0.125,465.875]},"title":null},"y":{"field":"p","type":"quantitative","scale":{"domain":[91.758,111.296],"round":true},"title":null}}},
{"data":{"name":"tags"},"mark":{"type":"text","align":"left","baseline":"middle","color":"#ffffff","font":"DejaVu Sans","fontSize":11},"encoding":{"x":{"datum":467.3,"type":"quantitative","scale":{"domain":[-0.125,465.875]},"title":null},"y":{"field":"p","type":"quantitative","scale":{"domain":[91.758,111.296],"round":true},"title":null},"text":{"field":"t"}}},
{"data":{"values":[{"i":0.9,"p":111.02,"t":"BRENT_OIL,H1\u00a0\u00a098.93 99.14 98.86 99.06"}]},"mark":{"type":"text","align":"left","baseline":"middle","color":"#000000","font":"Noto Sans","fontSize":12.5},"encoding":{"x":{"field":"i","type":"quantitative","scale":{"domain":[-0.125,465.875]},"title":null},"y":{"field":"p","type":"quantitative","scale":{"domain":[91.758,111.296],"round":true},"title":null},"text":{"field":"t"}}},
{"data":{"values":[{"i":363.6,"p":104.26,"t":"100 Periyotluk Üssel Hareketli Ortalama"}]},"mark":{"type":"text","align":"left","baseline":"middle","color":"#ff0000","font":"Liberation Sans","fontSize":19.7},"encoding":{"x":{"field":"i","type":"quantitative","scale":{"domain":[-0.125,465.875]},"title":null},"y":{"field":"p","type":"quantitative","scale":{"domain":[91.758,111.296],"round":true},"title":null},"text":{"field":"t"}}}
]}
